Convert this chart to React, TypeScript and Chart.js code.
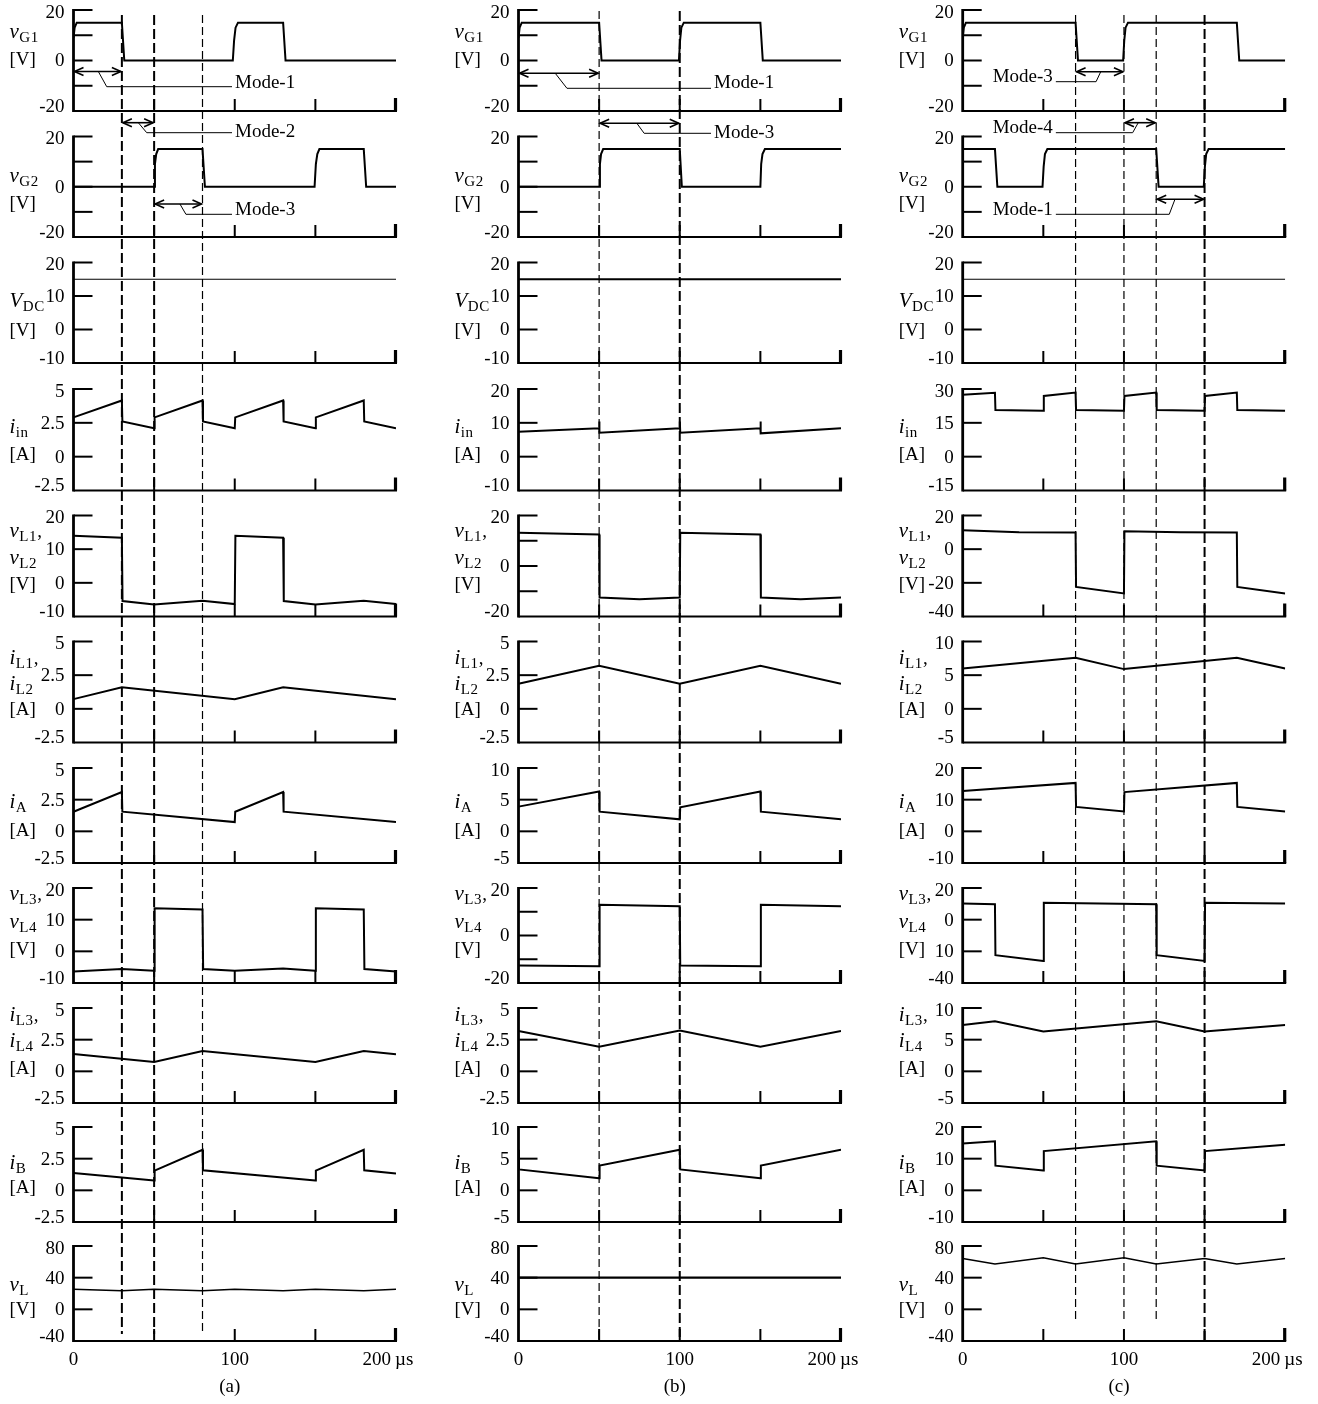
import React, { useEffect, useRef } from 'react';
import { Chart, registerables } from 'chart.js';

Chart.register(...registerables);

type Pt = [number, number];

// ---------------- data: time axis (µs) ----------------
const T_MIN = 0;
const T_MAX = 200;
const T_TICKS = [50, 100, 150];
const T_LABELS: [number, string][] = [[0, '0'], [100, '100'], [200, '200']];
const T_UNIT = 'µs';
const CAPTIONS = ['(a)', '(b)', '(c)'];

// mode boundaries (µs) per column
const A_MODE_T = [30, 50, 80];
const B_MODE_T = [50, 100];
const C_MODE_T = [70, 100, 120, 150];

// ---------------- column (a) ----------------
const a_vG1: Pt[] = [[0, 9], [0.7, 13], [2, 15], [30, 15], [31.5, 0], [98.8, 0], [99.6, 8], [100.5, 13], [102, 15], [130, 15], [131.5, 0], [200, 0]];
const a_vG2: Pt[] = [[0, 0], [50, 0], [50.5, 9], [51.3, 13], [52.5, 15], [80, 15], [81.5, 0], [149.5, 0], [150.3, 9], [151.2, 13], [152.5, 15], [180, 15], [181.5, 0], [200, 0]];
const a_VDC: Pt[] = [[0, 15], [200, 15]];
const a_iin: Pt[] = [[0, 2.9], [30, 4.15], [30.3, 2.6], [50, 2.1], [50.3, 2.9], [80, 4.15], [80.3, 2.6], [100, 2.1], [100.3, 2.9], [130, 4.15], [130.3, 2.6], [150, 2.1], [150.3, 2.9], [180, 4.15], [180.3, 2.6], [200, 2.1]];
const a_vL12: Pt[] = [[0, 14], [30, 13.4], [30.4, -5.4], [50, -6.4], [80, -5.3], [100, -6.3], [100.4, 14], [130, 13.4], [130.4, -5.4], [150, -6.4], [180, -5.3], [200, -6.3]];
const a_iL12: Pt[] = [[0, 0.72], [30, 1.6], [100, 0.72], [130, 1.6], [200, 0.72]];
const a_iA: Pt[] = [[0, 1.55], [30, 3.1], [30.3, 1.55], [100, 0.73], [100.3, 1.55], [130, 3.1], [130.3, 1.55], [200, 0.73]];
const a_vL34: Pt[] = [[0, -6.4], [30, -5.6], [50, -6.1], [50.3, 13.6], [80, 13.2], [80.4, -5.6], [100, -6.1], [130, -5.4], [150, -6.1], [150.3, 13.6], [180, 13.2], [180.4, -5.6], [200, -6.4]];
const a_iL34: Pt[] = [[0, 1.37], [50, 0.74], [80, 1.6], [150, 0.74], [180, 1.6], [200, 1.35]];
const a_iB: Pt[] = [[0, 1.37], [50, 0.77], [50.3, 1.56], [80, 3.2], [80.3, 1.58], [150, 0.77], [150.3, 1.56], [180, 3.2], [180.3, 1.58], [200, 1.33]];
const a_vL: Pt[] = [[0, 25.3], [30, 23.4], [50, 25.3], [80, 23.4], [100, 25.3], [130, 23.4], [150, 25.3], [180, 23.4], [200, 25.3]];

// ---------------- column (b) ----------------
const b_vG1: Pt[] = [[0, 9], [0.7, 13], [2, 15], [50, 15], [51.5, 0], [99.5, 0], [100.2, 8], [101, 13], [102.5, 15], [150, 15], [151.5, 0], [200, 0]];
const b_vG2: Pt[] = [[0, 0], [50, 0], [50.5, 9], [51.2, 13], [52.5, 15], [100, 15], [101.3, 0], [150, 0], [150.5, 9], [151.3, 13], [152.8, 15], [200, 15]];
const b_VDC: Pt[] = [[0, 15], [200, 15]];
const b_iin: Pt[] = [[0, 7.4], [50, 8.4], [50.05, 10.4], [50.3, 7.1], [100, 8.4], [100.05, 10.4], [100.3, 7.1], [150, 8.4], [150.05, 10.4], [150.3, 6.9], [200, 8.4]];
const b_vL12: Pt[] = [[0, 13.2], [50, 12.5], [50.3, -12.5], [75, -13.2], [100, -12.5], [100.3, 13.2], [150, 12.5], [150.3, -12.5], [175, -13.2], [200, -12.5]];
const b_iL12: Pt[] = [[0, 1.87], [50, 3.2], [100, 1.87], [150, 3.2], [200, 1.87]];
const b_iA: Pt[] = [[0, 3.9], [50, 6.3], [50.3, 3.1], [100, 1.9], [100.3, 3.8], [150, 6.3], [150.3, 3.1], [200, 1.9]];
const b_vL34: Pt[] = [[0, -12.6], [50, -12.9], [50.3, 12.9], [100, 12.3], [100.3, -12.6], [150, -12.9], [150.3, 12.9], [200, 12.3]];
const b_iL34: Pt[] = [[0, 3.18], [50, 1.95], [100, 3.23], [150, 1.95], [200, 3.18]];
const b_iB: Pt[] = [[0, 6.4], [0.3, 3.3], [50, 1.9], [50.3, 3.9], [100, 6.4], [100.3, 3.3], [150, 1.9], [150.3, 3.9], [200, 6.4]];
const b_vL: Pt[] = [[0, 40], [200, 40]];

// ---------------- column (c) ----------------
const c_vG1: Pt[] = [[0, 9], [0.7, 13], [2, 15], [70, 15], [71.5, 0], [99.5, 0], [100.2, 8], [101, 13], [102.5, 15], [170, 15], [171.5, 0], [200, 0]];
const c_vG2: Pt[] = [[0, 15], [20, 15], [21.5, 0], [49.5, 0], [50.2, 8], [51, 13], [52.5, 15], [120, 15], [121.5, 0], [149.5, 0], [150.2, 8], [151, 13], [152.5, 15], [200, 15]];
const c_VDC: Pt[] = [[0, 15], [200, 15]];
const c_iin: Pt[] = [[0, 27.4], [20, 28.3], [20.3, 20.7], [50, 20.4], [50.3, 26.9], [70, 28.4], [70.3, 20.7], [100, 20.4], [100.3, 26.9], [120, 28.4], [120.3, 20.7], [150, 20.4], [150.3, 26.9], [170, 28.4], [170.3, 20.7], [200, 20.4]];
const c_vL12: Pt[] = [[0, 11.2], [35, 10], [70, 9.9], [70.3, -22.4], [100, -26.3], [100.3, 10.7], [135, 10], [170, 9.9], [170.3, -22.4], [200, -26.3]];
const c_iL12: Pt[] = [[0, 6.0], [70, 7.6], [100, 5.9], [170, 7.6], [200, 6.0]];
const c_iA: Pt[] = [[0, 12.7], [70, 15.3], [70.3, 7.7], [100, 6.3], [100.3, 12.4], [170, 15.3], [170.3, 7.7], [200, 6.3]];
const c_vL34: Pt[] = [[0, 10.2], [20, 9.8], [20.3, -22.4], [50, -26.1], [50.3, 10.7], [120, 9.8], [120.3, -22.4], [150, -26.1], [150.3, 10.7], [200, 10.2]];
const c_iL34: Pt[] = [[0, 7.3], [20, 7.9], [50, 6.3], [120, 7.9], [150, 6.3], [200, 7.3]];
const c_iB: Pt[] = [[0, 14.8], [20, 15.5], [20.3, 7.8], [50, 6.3], [50.3, 12.4], [120, 15.5], [120.3, 7.8], [150, 6.3], [150.3, 12.4], [200, 14.4]];
const c_vL: Pt[] = [[0, 64.3], [20, 57.4], [50, 65.2], [70, 57.4], [100, 65], [120, 57.4], [150, 64.3], [170, 57.4], [200, 64.3]];

// ---------------- y-axis tick sets ----------------
interface Axis { min: number; max: number; step: number; show?: number[]; text?: Record<string, string> }
const AX_G: Axis = { min: -20, max: 20, step: 10, show: [20, 0, -20] };
const AX_V20: Axis = { min: -10, max: 20, step: 10 };
const AX_I5: Axis = { min: -2.5, max: 5, step: 2.5 };
const AX_I10: Axis = { min: -5, max: 10, step: 5 };
const AX_I20: Axis = { min: -10, max: 20, step: 10 };
const AX_I30: Axis = { min: -15, max: 30, step: 15 };
const AX_V40: Axis = { min: -40, max: 20, step: 20 };
const AX_V40C: Axis = { min: -40, max: 20, step: 20, text: { '-20': '10' } };
const AX_VL: Axis = { min: -40, max: 80, step: 40 };

// ---------------- row titles ----------------
type Seg = { k: 'it' | 'sub' | 'rm'; s: string };
const ROW_TITLES: Seg[][][] = [
  [[{ k: 'it', s: 'v' }, { k: 'sub', s: 'G1' }], [{ k: 'rm', s: '[V]' }]],
  [[{ k: 'it', s: 'v' }, { k: 'sub', s: 'G2' }], [{ k: 'rm', s: '[V]' }]],
  [[{ k: 'it', s: 'V' }, { k: 'sub', s: 'DC' }], [{ k: 'rm', s: '[V]' }]],
  [[{ k: 'it', s: 'i' }, { k: 'sub', s: 'in' }], [{ k: 'rm', s: '[A]' }]],
  [[{ k: 'it', s: 'v' }, { k: 'sub', s: 'L1' }, { k: 'rm', s: ',' }], [{ k: 'it', s: 'v' }, { k: 'sub', s: 'L2' }], [{ k: 'rm', s: '[V]' }]],
  [[{ k: 'it', s: 'i' }, { k: 'sub', s: 'L1' }, { k: 'rm', s: ',' }], [{ k: 'it', s: 'i' }, { k: 'sub', s: 'L2' }], [{ k: 'rm', s: '[A]' }]],
  [[{ k: 'it', s: 'i' }, { k: 'sub', s: 'A' }], [{ k: 'rm', s: '[A]' }]],
  [[{ k: 'it', s: 'v' }, { k: 'sub', s: 'L3' }, { k: 'rm', s: ',' }], [{ k: 'it', s: 'v' }, { k: 'sub', s: 'L4' }], [{ k: 'rm', s: '[V]' }]],
  [[{ k: 'it', s: 'i' }, { k: 'sub', s: 'L3' }, { k: 'rm', s: ',' }], [{ k: 'it', s: 'i' }, { k: 'sub', s: 'L4' }], [{ k: 'rm', s: '[A]' }]],
  [[{ k: 'it', s: 'i' }, { k: 'sub', s: 'B' }], [{ k: 'rm', s: '[A]' }]],
  [[{ k: 'it', s: 'v' }, { k: 'sub', s: 'L' }], [{ k: 'rm', s: '[V]' }]],
];

interface PanelSpec { data: Pt[]; ax: Axis; lw: number }
const PANELS: PanelSpec[][] = [
  [
    { data: a_vG1, ax: AX_G, lw: 2 }, { data: a_vG2, ax: AX_G, lw: 2 }, { data: a_VDC, ax: AX_V20, lw: 1.2 },
    { data: a_iin, ax: AX_I5, lw: 2 }, { data: a_vL12, ax: AX_V20, lw: 2 }, { data: a_iL12, ax: AX_I5, lw: 2 },
    { data: a_iA, ax: AX_I5, lw: 2 }, { data: a_vL34, ax: AX_V20, lw: 2 }, { data: a_iL34, ax: AX_I5, lw: 2 },
    { data: a_iB, ax: AX_I5, lw: 2 }, { data: a_vL, ax: AX_VL, lw: 1.4 },
  ],
  [
    { data: b_vG1, ax: AX_G, lw: 2 }, { data: b_vG2, ax: AX_G, lw: 2 }, { data: b_VDC, ax: AX_V20, lw: 2 },
    { data: b_iin, ax: AX_I20, lw: 2 }, { data: b_vL12, ax: AX_G, lw: 2 }, { data: b_iL12, ax: AX_I5, lw: 2 },
    { data: b_iA, ax: AX_I10, lw: 2 }, { data: b_vL34, ax: AX_G, lw: 2 }, { data: b_iL34, ax: AX_I5, lw: 2 },
    { data: b_iB, ax: AX_I10, lw: 2 }, { data: b_vL, ax: AX_VL, lw: 2.2 },
  ],
  [
    { data: c_vG1, ax: AX_G, lw: 2 }, { data: c_vG2, ax: AX_G, lw: 2 }, { data: c_VDC, ax: AX_V20, lw: 1.2 },
    { data: c_iin, ax: AX_I30, lw: 2 }, { data: c_vL12, ax: AX_V40, lw: 2 }, { data: c_iL12, ax: AX_I10, lw: 2 },
    { data: c_iA, ax: AX_I20, lw: 2 }, { data: c_vL34, ax: AX_V40C, lw: 2 }, { data: c_iL34, ax: AX_I10, lw: 2 },
    { data: c_iB, ax: AX_I20, lw: 2 }, { data: c_vL, ax: AX_VL, lw: 1.5 },
  ],
];

// ---------------- layout (pixels) ----------------
const PAGE_W = 1318;
const PAGE_H = 1404;
const COL_X0 = [0, 444, 888];
const COL_W = 444;
const PLOT_LEFT = [73.5, 518.5, 962.7];
const PLOT_W = 322.5;
const ROW_TOP = [10, 136.5, 262.5, 389, 515.5, 641.5, 768, 888, 1008, 1127, 1246];
const ROW_BOT = [111, 237, 363, 490.5, 616.5, 742.5, 863, 983, 1103, 1222, 1341];
const TITLE_Y = [[23, 50], [40, 67.5], [39, 68], [39, 66], [16, 43, 69], [17, 43.5, 68.5], [35, 63], [7, 35, 62], [7.5, 34, 61], [37, 61], [40, 64]];
const MARGIN = 12;
const SERIF = '"Liberation Serif", "DejaVu Serif", "Times New Roman", serif';
const INK = '#000';

// dashed guide lines: width and vertical extent per column
const MODE_W = [[2, 2, 1.2], [1.2, 2], [1.2, 1.2, 1.2, 2]];
const MODE_Y = [
  [[15, 1334], [15, 1334], [15, 1334]],
  [[11, 1341], [11, 1341]],
  [[15, 1321], [15, 1321], [15, 1321], [15, 1341]],
];

interface Note { text: string; t1: number; t2: number; y: number; side: 'R' | 'L'; lt: number; dx: number; ly: number; tx: number; ty: number }
const NOTES: Note[][] = [
  [
    { text: 'Mode-1', t1: A_MODE_T[0] - 30, t2: A_MODE_T[0], y: 71.5, side: 'R', lt: 15.4, dx: 8.4, ly: 86.7, tx: 161.5, ty: 83.3 },
    { text: 'Mode-2', t1: A_MODE_T[0], t2: A_MODE_T[1], y: 122.7, side: 'R', lt: 40.2, dx: 8.4, ly: 132.7, tx: 161.5, ty: 132.2 },
    { text: 'Mode-3', t1: A_MODE_T[1], t2: A_MODE_T[2], y: 204, side: 'R', lt: 66, dx: 6, ly: 214.3, tx: 161.5, ty: 210.3 },
  ],
  [
    { text: 'Mode-1', t1: 0, t2: B_MODE_T[0], y: 73.3, side: 'R', lt: 22.8, dx: 11.7, ly: 88.3, tx: 195.5, ty: 83.3 },
    { text: 'Mode-3', t1: B_MODE_T[0], t2: B_MODE_T[1], y: 123.3, side: 'R', lt: 73.4, dx: 7.3, ly: 133.3, tx: 195.5, ty: 132.7 },
  ],
  [
    { text: 'Mode-3', t1: C_MODE_T[0], t2: C_MODE_T[1], y: 71.7, side: 'L', lt: 82.7, dx: 4.7, ly: 81.7, tx: 30, ty: 77.3 },
    { text: 'Mode-4', t1: C_MODE_T[1], t2: C_MODE_T[2], y: 122.7, side: 'L', lt: 105.4, dx: 5.6, ly: 132.7, tx: 30, ty: 128.3 },
    { text: 'Mode-1', t1: C_MODE_T[2], t2: C_MODE_T[3], y: 199.3, side: 'L', lt: 128.1, dx: 5.7, ly: 214.3, tx: 30, ty: 210 },
  ],
];
const MODE_TS = [A_MODE_T, B_MODE_T, C_MODE_T];

// ---------------- drawing helpers ----------------
function seg(ctx: CanvasRenderingContext2D, x1: number, y1: number, x2: number, y2: number, w: number) {
  ctx.lineWidth = w;
  ctx.beginPath();
  ctx.moveTo(x1, y1);
  ctx.lineTo(x2, y2);
  ctx.stroke();
}

function drawRich(ctx: CanvasRenderingContext2D, segs: Seg[], x: number, baseline: number) {
  let cx = x;
  ctx.textAlign = 'left';
  ctx.textBaseline = 'alphabetic';
  for (const s of segs) {
    const anyCtx = ctx as any;
    if (s.k === 'it') {
      ctx.font = `italic 21px ${SERIF}`;
      anyCtx.letterSpacing = '0px';
      ctx.fillText(s.s, cx, baseline);
      cx += ctx.measureText(s.s).width + 0.5;
    } else if (s.k === 'sub') {
      ctx.font = `15px ${SERIF}`;
      anyCtx.letterSpacing = '0.6px';
      ctx.fillText(s.s, cx, baseline + 4);
      cx += ctx.measureText(s.s).width;
      anyCtx.letterSpacing = '0px';
    } else {
      ctx.font = `19px ${SERIF}`;
      anyCtx.letterSpacing = '0px';
      ctx.fillText(s.s, cx, baseline);
      cx += ctx.measureText(s.s).width;
    }
  }
}

function panelPlugin(row: number, ax: Axis) {
  return {
    id: 'panelAxes',
    afterDraw(chart: any) {
      const ctx: CanvasRenderingContext2D = chart.ctx;
      const ca = chart.chartArea;
      const xs = chart.scales.x;
      const ys = chart.scales.y;
      ctx.save();
      ctx.strokeStyle = INK;
      ctx.fillStyle = INK;
      ctx.lineCap = 'butt';
      // axes
      seg(ctx, ca.left, ca.bottom, ca.right + 1, ca.bottom, 2);
      seg(ctx, ca.left, ca.top - 1, ca.left, ca.bottom + 1, 2.8);
      // y ticks + labels
      const n = Math.round((ax.max - ax.min) / ax.step);
      ctx.font = `19px ${SERIF}`;
      ctx.textAlign = 'right';
      ctx.textBaseline = 'middle';
      for (let i = 0; i <= n; i++) {
        const v = +(ax.max - i * ax.step).toFixed(3);
        const py = ys.getPixelForValue(v);
        if (i < n) seg(ctx, ca.left, py, ca.left + 19, py, 2);
        if (!ax.show || ax.show.includes(v)) {
          const dy = i === 0 ? 3 : i === n ? -4 : 1;
          const txt = ax.text && ax.text[String(v)] !== undefined ? ax.text[String(v)] : String(v);
          ctx.fillText(txt, ca.left - 9, py + dy);
        }
      }
      // x ticks
      for (const t of T_TICKS) {
        const px = xs.getPixelForValue(t);
        seg(ctx, px, ca.bottom, px, ca.bottom - 12, 2);
      }
      const pe = xs.getPixelForValue(T_MAX);
      seg(ctx, pe - 0.5, ca.bottom, pe - 0.5, ca.bottom - 13, 3.2);
      // titles
      const lines = ROW_TITLES[row];
      lines.forEach((segs, i) => {
        drawRich(ctx, segs, ca.left - 64, ca.top + TITLE_Y[row][i] + 5);
      });
      ctx.restore();
    },
  };
}

function drawArrowHead(ctx: CanvasRenderingContext2D, x: number, y: number, dir: number) {
  ctx.beginPath();
  ctx.moveTo(x + dir * 9, y - 4);
  ctx.lineTo(x, y);
  ctx.lineTo(x + dir * 9, y + 4);
  ctx.stroke();
}

function overlayPlugin(col: number) {
  return {
    id: 'notes',
    afterDraw(chart: any) {
      const ctx: CanvasRenderingContext2D = chart.ctx;
      const xs = chart.scales.x;
      const ys = chart.scales.y;
      const ca = chart.chartArea;
      ctx.save();
      ctx.strokeStyle = INK;
      ctx.fillStyle = INK;
      ctx.setLineDash([]);
      ctx.lineJoin = 'miter';
      for (const n of NOTES[col]) {
        const x1 = xs.getPixelForValue(n.t1);
        const x2 = xs.getPixelForValue(n.t2);
        const y = ys.getPixelForValue(n.y);
        ctx.lineWidth = 1.6;
        seg(ctx, x1 + 1, y, x2 - 1, y, 1.6);
        drawArrowHead(ctx, x1 + 1, y, 1);
        drawArrowHead(ctx, x2 - 1, y, -1);
        ctx.font = `19px ${SERIF}`;
        ctx.textAlign = 'left';
        ctx.textBaseline = 'middle';
        const tw = ctx.measureText(n.text).width;
        const tx = ca.left + n.tx;
        const ly = ys.getPixelForValue(n.ly);
        const lx = xs.getPixelForValue(n.lt);
        ctx.lineWidth = 1;
        ctx.beginPath();
        if (n.side === 'R') {
          ctx.moveTo(lx, y);
          ctx.lineTo(lx + n.dx, ly);
          ctx.lineTo(tx - 3, ly);
        } else {
          ctx.moveTo(tx + tw + 3, ly);
          ctx.lineTo(lx, ly);
          ctx.lineTo(lx + n.dx, y);
        }
        ctx.stroke();
        ctx.fillText(n.text, tx, ys.getPixelForValue(n.ty));
      }
      // time axis labels
      ctx.font = `19px ${SERIF}`;
      ctx.textBaseline = 'middle';
      const ly = 1360;
      for (const [t, s] of T_LABELS) {
        const px = xs.getPixelForValue(t);
        if (t === T_MAX) {
          ctx.textAlign = 'right';
          ctx.fillText(s, px - 5, ly);
          ctx.textAlign = 'left';
          ctx.fillText(T_UNIT, px - 1, ly);
        } else {
          ctx.textAlign = 'center';
          ctx.fillText(s, px, ly);
        }
      }
      ctx.textAlign = 'center';
      ctx.fillText(CAPTIONS[col], (ca.left + ca.right) / 2 - 5, 1387);
      ctx.restore();
    },
  };
}

function Panel({ col, row }: { col: number; row: number }) {
  const ref = useRef<HTMLCanvasElement>(null);
  const spec = PANELS[col][row];
  const top = Math.floor(ROW_TOP[row]) - MARGIN;
  const height = Math.ceil(ROW_BOT[row]) + MARGIN - top;
  useEffect(() => {
    const canvas = ref.current!;
    const padL = PLOT_LEFT[col] - COL_X0[col];
    const padR = COL_W - padL - PLOT_W;
    const padT = ROW_TOP[row] - top;
    const padB = top + height - ROW_BOT[row];
    const chart = new Chart(canvas, {
      type: 'line',
      data: {
        datasets: [
          {
            data: spec.data.map(([x, y]) => ({ x, y })),
            borderColor: INK,
            borderWidth: spec.lw,
            pointRadius: 0,
            tension: 0,
            fill: false,
            borderJoinStyle: 'miter',
          } as any,
        ],
      },
      options: {
        animation: false,
        responsive: false,
        maintainAspectRatio: false,
        events: [],
        layout: { padding: { left: padL, right: padR, top: padT, bottom: padB } },
        scales: {
          x: { type: 'linear', min: T_MIN, max: T_MAX, display: false },
          y: { type: 'linear', min: spec.ax.min, max: spec.ax.max, display: false },
        },
        plugins: { legend: { display: false }, tooltip: { enabled: false } },
      },
      plugins: [panelPlugin(row, spec.ax)],
    });
    return () => chart.destroy();
  }, []);
  return (
    <canvas
      ref={ref}
      width={COL_W}
      height={height}
      style={{ position: 'absolute', left: COL_X0[col], top, width: COL_W, height }}
    />
  );
}

function Overlay({ col }: { col: number }) {
  const ref = useRef<HTMLCanvasElement>(null);
  useEffect(() => {
    const canvas = ref.current!;
    const padL = PLOT_LEFT[col] - COL_X0[col];
    const padR = COL_W - padL - PLOT_W;
    const datasets = MODE_TS[col].map((t, i) => ({
      data: [{ x: t, y: MODE_Y[col][i][0] }, { x: t, y: MODE_Y[col][i][1] }],
      borderColor: INK,
      borderWidth: MODE_W[col][i],
      borderDash: MODE_W[col][i] > 1.5 ? [10, 4] : [8, 4],
      pointRadius: 0,
      fill: false,
      clip: false,
    }));
    const chart = new Chart(canvas, {
      type: 'line',
      data: { datasets: datasets as any },
      options: {
        animation: false,
        responsive: false,
        maintainAspectRatio: false,
        events: [],
        layout: { padding: { left: padL, right: padR, top: 0, bottom: 0 } },
        scales: {
          x: { type: 'linear', min: T_MIN, max: T_MAX, display: false },
          y: { type: 'linear', min: 0, max: PAGE_H, reverse: true, display: false },
        },
        plugins: { legend: { display: false }, tooltip: { enabled: false } },
      },
      plugins: [overlayPlugin(col)],
    });
    return () => chart.destroy();
  }, []);
  return (
    <canvas
      ref={ref}
      width={COL_W}
      height={PAGE_H}
      style={{ position: 'absolute', left: COL_X0[col], top: 0, width: COL_W, height: PAGE_H }}
    />
  );
}

export default function App() {
  const cols = [0, 1, 2];
  const rows = ROW_TOP.map((_, i) => i);
  return (
    <div style={{ position: 'absolute', left: 0, top: 0, width: PAGE_W, height: PAGE_H, background: '#fff', overflow: 'hidden' }}>
      {cols.map((c) => rows.map((r) => <Panel key={`p${c}-${r}`} col={c} row={r} />))}
      {cols.map((c) => <Overlay key={`o${c}`} col={c} />)}
    </div>
  );
}
